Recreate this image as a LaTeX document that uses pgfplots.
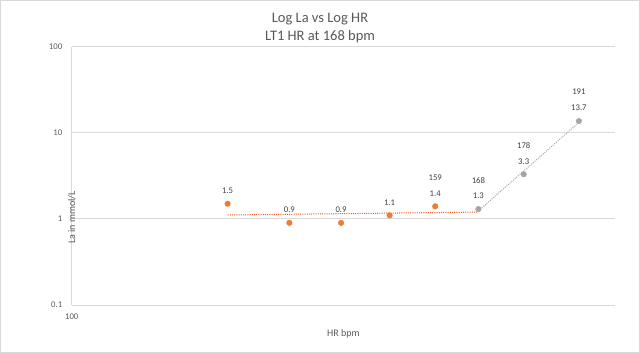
\documentclass[border=0pt]{standalone}
\usepackage{pgfplots}
\pgfplotsset{compat=1.18}
\usepackage{fontspec}
\setmainfont{Carlito}
\definecolor{gridgrey}{HTML}{D9D9D9}
\definecolor{txtgrey}{HTML}{595959}
\definecolor{lblgrey}{HTML}{404040}
\definecolor{xlorange}{HTML}{ED7D31}
\definecolor{trendorange}{HTML}{E8581E}
\definecolor{xlgrey}{HTML}{A5A5A5}
\begin{document}
\begin{tikzpicture}
\begin{axis}[
  scale only axis,
  width=543.3pt, height=258.3pt,
  xmode=log, ymode=log,
  xmin=100, xmax=200, ymin=0.1, ymax=100,
  /pgf/number format/assume math mode=true,
  xtick={100}, xticklabels={100},
  ytick={0.1,1,10,100}, yticklabels={0.1,1,10,100},
  minor xtick={}, minor ytick={},
  ymajorgrids, grid style={gridgrey, line width=0.8pt},
  axis lines*=left,
  axis line style={gridgrey, line width=0.8pt},
  tick style={draw=none},
  major tick length=0pt,
  ticklabel style={font=\fontsize{8.7}{10}\selectfont, text=txtgrey},
  yticklabel style={xshift=-6pt},
  xticklabel style={yshift=-5pt},
  xlabel={HR bpm}, ylabel={La in mmol/L},
  label style={font=\fontsize{10}{12}\selectfont, text=txtgrey},
  xlabel style={at={(axis description cs:0.5,0)}, anchor=center, yshift=-29pt},
  ylabel style={at={(axis description cs:0,0.5)}, anchor=center, xshift=-41.7pt},
  clip=false,
]
% trend lines
\addplot[trendorange, line width=1pt, dash pattern=on 1pt off 1.2pt] coordinates {(122,1.11) (168,1.20)};
\addplot[xlgrey, line width=1pt, dash pattern=on 1pt off 1.2pt] coordinates {(168,1.24) (191,13.2)};
% orange series
\addplot[only marks, mark=*, mark size=2.8pt, color=xlorange,
  point meta=explicit symbolic, nodes near coords,
  every node near coord/.append style={font=\fontsize{8.7}{10}\selectfont, text=lblgrey, anchor=center, yshift=13pt}]
  coordinates {(122,1.5)[1.5] (132,0.9)[0.9] (141,0.9)[0.9] (150,1.1)[1.1] (159,1.4)[1.4]};
% grey series
\addplot[only marks, mark=*, mark size=2.8pt, color=xlgrey,
  point meta=explicit symbolic, nodes near coords,
  every node near coord/.append style={font=\fontsize{8.7}{10}\selectfont, text=lblgrey, anchor=center, yshift=13pt}]
  coordinates {(168,1.3)[1.3] (178,3.3)[3.3] (191,13.7)[13.7]};
% HR labels
\addplot[only marks, mark=none, draw=none,
  point meta=explicit symbolic, nodes near coords,
  every node near coord/.append style={font=\fontsize{8.7}{10}\selectfont, text=lblgrey, anchor=center, yshift=29pt}]
  coordinates {(159,1.4)[159] (168,1.3)[168] (178,3.3)[178] (191,13.7)[191]};
\end{axis}
\node[align=center, font=\fontsize{14.5}{17.5}\selectfont, text=txtgrey] at (248.3pt,277pt) {Log La vs Log HR\\LT1 HR at 168 bpm};
\pgfresetboundingbox
\useasboundingbox (-71.7pt,-48pt) rectangle (568.3pt,305pt);
\draw[gridgrey, line width=1pt] (-71.2pt,-47.5pt) rectangle (567.8pt,304.5pt);
\end{tikzpicture}
\end{document}
